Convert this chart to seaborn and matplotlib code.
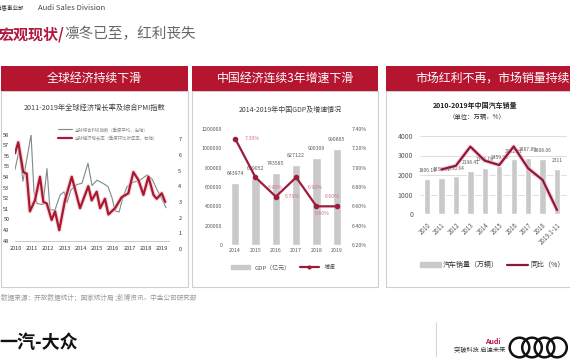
import matplotlib
matplotlib.use("Agg")
import matplotlib.pyplot as plt
import seaborn as sns
import numpy as np
import pandas as pd
from matplotlib.patches import Rectangle, Patch, Circle
from matplotlib.lines import Line2D
from matplotlib.ticker import FuncFormatter

# --- panel 1: global economy (decimal years) ---
pmi_years = [2009.94, 2010.19, 2010.43, 2010.93, 2011.11, 2011.30, 2011.67, 2011.91,
             2012.10, 2012.41, 2012.72, 2012.96, 2013.15, 2013.40, 2013.77, 2014.07,
             2014.44, 2014.69, 2015.00, 2015.37, 2015.68, 2015.93, 2016.11, 2016.36,
             2016.60, 2016.85, 2017.22, 2017.65, 2018.09, 2018.40, 2018.70, 2019.07, 2019.26]
pmi_values = [54.7, 56.5, 53.6, 58.0, 52.6, 51.5, 51.4, 54.8,
              50.9, 50.9, 52.3, 52.6, 51.6, 52.8, 53.3, 53.4,
              55.3, 53.2, 53.7, 53.4, 53.1, 52.0, 50.8, 50.7,
              52.1, 53.1, 53.5, 53.7, 54.2, 53.8, 52.8, 51.7, 51.1]
growth_years = [2009.94, 2010.14, 2010.45, 2010.66, 2010.86, 2011.17, 2011.48, 2011.69,
                2011.90, 2012.20, 2012.41, 2012.67, 2013.02, 2013.44, 2013.95, 2014.46,
                2014.67, 2014.98, 2015.19, 2015.49, 2015.70, 2016.11, 2016.52, 2016.93,
                2017.24, 2017.55, 2017.86, 2018.17, 2018.48, 2018.68, 2018.99, 2019.20]
growth_values = [6.1, 6.8, 4.9, 4.8, 2.4, 3.1, 4.6, 3.0,
                 2.9, 1.85, 2.4, 1.2, 3.1, 4.6, 2.6, 4.0,
                 3.1, 3.65, 2.6, 3.2, 2.2, 2.6, 3.3, 3.55,
                 4.9, 4.4, 3.45, 4.6, 3.45, 3.2, 3.55, 3.0]
world_ticks = list(range(2010, 2020))

# --- panel 2: China GDP ---
gdp_years = ["2014", "2015", "2016", "2017", "2018", "2019"]
gdp_values = [643974, 689052, 743585, 827122, 900309, 990865]
gdp_growth = [7.3, 6.9, 6.7, 6.9, 6.6, 6.6]

# --- panel 3: China car sales ---
car_years = ["2010", "2011", "2012", "2013", "2014", "2015", "2016", "2017", "2018", "2019.1-11"]
car_sales = [1806.19, 1850.51, 1930.64, 2198.41, 2349.19, 2459.76, 2802.82, 2887.89, 2808.06, 2311]
car_yoy = [np.nan, 2.45, 4.33, 13.87, 6.86, 4.68, 13.95, 3.04, -2.76, -17.8]

RED = "#b5152f"
TXT = "#595959"
W, H = 570, 360


def rect(x0, y0, x1, y1):
    return [x0 / W, 1 - y1 / H, (x1 - x0) / W, (y1 - y0) / H]


def fx(x):
    return x / W


def fy(y):
    return 1 - y / H


sns.set_theme(style="white")
plt.rcParams["font.family"] = ["Noto Sans CJK SC", "DejaVu Sans"]

fig = plt.figure(figsize=(5.7, 3.6), dpi=100)
fig.patch.set_facecolor("white")

# header texts
fig.text(fx(-14), fy(8), "奥迪销售事业部", fontsize=4, color="#333333", va="center")
fig.text(fx(38), fy(8), "Audi Sales Division", fontsize=5.5, color="#444444", va="center")
fig.text(fx(-1), fy(34), "宏观现状/", fontsize=10.8, color="#b01842", fontweight="bold", va="center")
fig.text(fx(64), fy(34), "凛冬已至，红利丧失", fontsize=10.5, color="#666666", va="center")

# panel frames and red headers
panels = [(0.5, 188, "全球经济持续下滑", "center"),
          (192, 378, "中国经济连续3年增速下滑", "center"),
          (386, 575, "市场红利不再，市场销量持续下滑", "left")]
for x0, x1, label, ha in panels:
    fig.add_artist(Rectangle((fx(x0), fy(287)), (x1 - x0) / W, (287 - 91) / H,
                             transform=fig.transFigure, fill=False, edgecolor="#cfcfcf", lw=0.8))
    fig.add_artist(Rectangle((fx(x0), fy(91)), (x1 - x0) / W, 25 / H,
                             transform=fig.transFigure, color=RED, lw=0))
    tx = (x0 + x1) / 2 if ha == "center" else 415
    fig.text(fx(tx), fy(78), label, ha=ha, va="center", fontsize=8.6, color="white")

# ---------- panel 1 ----------
ax1 = fig.add_axes(rect(15, 134.6, 170, 249))
sns.lineplot(x=pmi_years, y=pmi_values, ax=ax1, color="#7f8a8a", lw=0.8, estimator=None)
ax1.axhline(48, color="#bfbfbf", lw=0.6)
ax1.set_xlim(2009.94, 2019.5)
ax1.set_ylim(47.21, 58)
ax1.set_yticks(range(48, 59))
ax1.set_xticks(world_ticks)
ax1.tick_params(axis="y", labelsize=4, colors="#333333", length=0, pad=4)
ax1.tick_params(axis="x", labelsize=4, colors="#333333", length=0, pad=-2)
for s in ax1.spines.values():
    s.set_visible(False)

ax1b = ax1.twinx()
sns.lineplot(x=growth_years, y=growth_values, ax=ax1b, color="#f2b8c4", lw=3.2, alpha=0.6, estimator=None)
sns.lineplot(x=growth_years, y=growth_values, ax=ax1b, color="#a6192e", lw=1.6, estimator=None)
ax1b.set_ylim(0, 7.29)
ax1b.set_yticks(range(0, 8))
ax1b.tick_params(axis="y", labelsize=4, colors="#333333", length=0, pad=6)
for s in ax1b.spines.values():
    s.set_visible(False)
ax1.set_xlabel("")
ax1.set_ylabel("")
ax1b.set_ylabel("")

fig.text(fx(95), fy(108), "2011-2019年全球经济增长率及综合PMI指数", ha="center", va="center",
         fontsize=5.2, color="#404040")
fig.legend([Line2D([], [], color="#7f8a8a", lw=0.8), Line2D([], [], color="#a6192e", lw=1.6)],
           ["全球综合PMI指数（季度平均，左轴）", "全球经济增长率（季度环比折年率，右轴）"],
           loc="upper left", bbox_to_anchor=(fx(54), fy(123)), frameon=False, fontsize=3.2,
           handlelength=3.2, labelspacing=0.9, handletextpad=0.7, labelcolor="#8c8c8c")

# ---------- panel 2 ----------
ax2 = fig.add_axes(rect(225, 129, 348, 245))
sns.barplot(x=gdp_years, y=gdp_values, ax=ax2, color="#c9c9c9", width=0.41, saturation=1)
ax2.set_xlim(-0.5, 5.55)
ax2.set_ylim(0, 1200000)
ax2.set_yticks(range(0, 1200001, 200000))
ax2.yaxis.set_major_formatter(FuncFormatter(lambda v, p: f"{int(v)}"))
ax2.tick_params(axis="both", labelsize=3.8, colors=TXT, length=0)
ax2.tick_params(axis="y", pad=2)
ax2.tick_params(axis="x", pad=2)
for s in ax2.spines.values():
    s.set_visible(False)
for i, v in enumerate(gdp_values):
    ax2.annotate(str(v), (i, v), xytext=(0, 7), textcoords="offset points",
                 ha="center", va="center", fontsize=3.8, color=TXT)

ax2b = ax2.twinx()
pos = np.arange(len(gdp_years))
sns.lineplot(x=pos, y=gdp_growth, ax=ax2b, color="#9c1c3c", lw=1.6, marker="o",
             markersize=4, markeredgewidth=0, estimator=None)
ax2b.set_ylim(6.2, 7.4)
ax2b.set_yticks(np.round(np.arange(6.2, 7.41, 0.2), 1))
ax2b.yaxis.set_major_formatter(FuncFormatter(lambda v, p: f"{v:.2f}%"))
ax2b.tick_params(axis="y", labelsize=3.8, colors=TXT, length=0, pad=3)
for s in ax2b.spines.values():
    s.set_visible(False)
ax2b.set_ylabel("")
offsets = [(12, 0), (14, -7), (12, 0), (14, -7), (4, -5), (-3, 7)]
for i, v in enumerate(gdp_growth):
    ax2b.annotate(f"{v:.2f}%", (i, v), xytext=offsets[i], textcoords="offset points",
                  ha="center", va="center", fontsize=3.8, color="#d0708a")

fig.text(fx(290), fy(110), "2014-2019年中国GDP及增速情况", ha="center", va="center",
         fontsize=5, color="#404040")
fig.legend([Patch(color="#c9c9c9"),
            Line2D([], [], color="#9c1c3c", lw=1.6, marker="o", markersize=3, markeredgewidth=0)],
           ["GDP（亿元）", "增速"], loc="center", bbox_to_anchor=(fx(283), fy(267)), ncol=2,
           frameon=False, fontsize=4.3, handlelength=3.2, handleheight=0.5, columnspacing=1.5,
           labelcolor=TXT)

# ---------- panel 3 ----------
ax3 = fig.add_axes(rect(420, 136, 567, 214))
sns.barplot(x=car_years, y=car_sales, ax=ax3, color="#c9c9c9", width=0.44, saturation=1)
ax3.set_xlim(-0.485, 9.69)
ax3.set_ylim(0, 4000)
ax3.set_yticks(range(0, 4001, 1000))
ax3.yaxis.grid(True, color="#d9d9d9", lw=0.6)
ax3.set_axisbelow(True)
ax3.tick_params(axis="y", labelsize=5, colors=TXT, length=0, pad=5)
ax3.tick_params(axis="x", labelsize=4.4, colors=TXT, length=0, pad=5)
plt.setp(ax3.get_xticklabels(), rotation=45, ha="right", va="top", rotation_mode="anchor")
for s in ax3.spines.values():
    s.set_visible(False)
for i, v in enumerate(car_sales):
    ax3.annotate(f"{v:g}", (i, v), xytext=(0, 6), textcoords="offset points",
                 ha="center", va="center", fontsize=3.5, color=TXT)

ax3b = ax3.twinx()
yoy = pd.DataFrame({"pos": np.arange(len(car_years)), "yoy": car_yoy}).dropna()
sns.lineplot(data=yoy, x="pos", y="yoy", ax=ax3b, color="#f2b8c4", lw=3.2, alpha=0.6, estimator=None)
sns.lineplot(data=yoy, x="pos", y="yoy", ax=ax3b, color="#8e1838", lw=1.6, estimator=None)
ax3b.set_ylim(-19.8, 19.2)
ax3b.axis("off")

fig.text(fx(475), fy(105), "2010-2019年中国汽车销量", ha="center", va="center",
         fontsize=5, color="#222222", fontweight="bold")
fig.text(fx(477), fy(117), "（单位：万辆，%）", ha="center", va="center", fontsize=4.6, color="#333333")
fig.legend([Patch(color="#c9c9c9"), Line2D([], [], color="#8e1838", lw=1.6)],
           ["汽车销量（万辆）", "同比（%）"], loc="center", bbox_to_anchor=(fx(492), fy(265)), ncol=2,
           frameon=False, fontsize=5, handlelength=3, handleheight=0.6, columnspacing=1.2,
           handletextpad=0.3, labelcolor="#333333")

# ---------- footer ----------
fig.text(fx(1), fy(298), "数据来源：开放数据统计；国家统计局 ;彭博资讯，中金公司研究部", fontsize=4.8,
         color="#999999", va="center")
fig.text(fx(-1), fy(343), "一汽-大众", fontsize=13, fontweight="black", color="#111111", va="center")
fig.add_artist(Line2D([fx(436), fx(436)], [fy(322), fy(356)], transform=fig.transFigure,
                      color="#cccccc", lw=0.6))
fig.text(fx(501), fy(341), "Audi", fontsize=5, color="#b01842", fontweight="bold", ha="right", va="center")
fig.text(fx(505), fy(350), "突破科技 启迪未来", fontsize=4.5, color="#333333", ha="right", va="center")
lax = fig.add_axes(rect(505, 333, 570, 361))
lax.set_xlim(505, 570)
lax.set_ylim(361, 333)
lax.axis("off")
for cx in [519.5, 532, 544.5, 557]:
    lax.add_patch(Circle((cx, 347.5), 9.8, fill=False, edgecolor="#111111", lw=1.8))

fig.savefig("out.png", dpi=100)
